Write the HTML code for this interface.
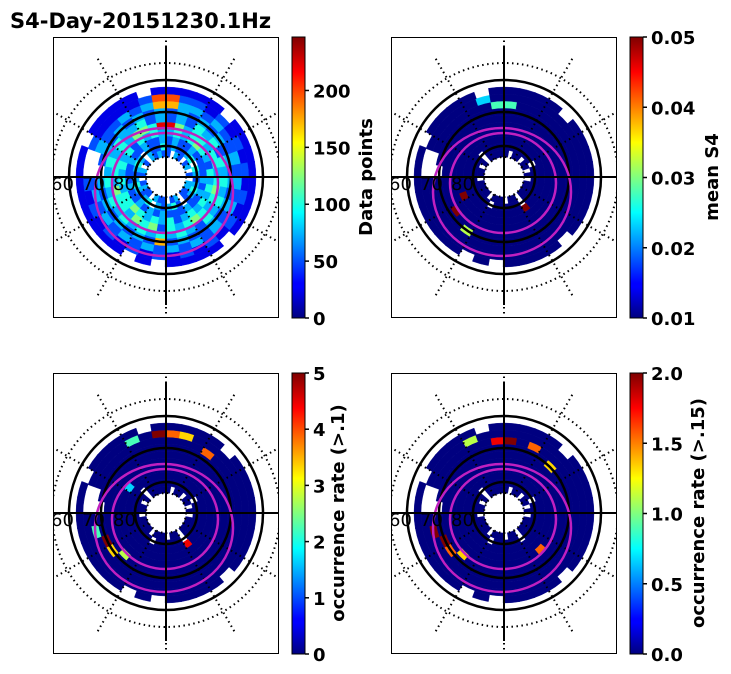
<!DOCTYPE html>
<html><head><meta charset="utf-8"><style>
body{margin:0;background:#fff;}
svg{display:block;font-family:"DejaVu Sans","Liberation Sans",sans-serif;}
</style></head><body>
<svg id="fig" width="731" height="674" viewBox="0 0 731 674">
<defs>
<linearGradient id="jet" x1="0" y1="1" x2="0" y2="0">
<stop offset="0" stop-color="#00007f"/><stop offset="0.11" stop-color="#0000ff"/><stop offset="0.125" stop-color="#0000ff"/>
<stop offset="0.375" stop-color="#00ffff"/><stop offset="0.5" stop-color="#80ff80"/><stop offset="0.625" stop-color="#ffff00"/>
<stop offset="0.875" stop-color="#ff0000"/><stop offset="1" stop-color="#7f0000"/>
</linearGradient>
</defs>
<text x="10" y="28" font-size="21" font-weight="bold">S4-Day-20151230.1Hz</text>
</svg>
<script>
const countRows = [
"2.32.23.2.3322.32.223.2232.23.2.3232",
"232234.4323432.24323.4323432343.3224",
"232232222323223222323232232223223223",
"343454324343434324343454434343424343",
"953443443454345434254534453443435549",
"232434243434342343434343434343433423",
"232323232323232232723232323.23232323",
"733232232323232323232323232..3223237",
"822121212121212121212121212..2111128",
"1111.11111111.1111.1.11111111.1111.11"];
const meanS4Spots = [[7,0,4],[7,35,4],[8,34,3],[3,24,9],[5,23,9],[2,14,9],[6,21,5]];
const occ1Spots = [[8,0,7],[8,35,9],[8,1,6],[8,33,4],[7,3,7],[6,24,9],[6,23,6],[5,22,5],[7,25,4],[3,30,3],[2,14,8]];
const occ15Spots = [[7,0,9],[7,35,8],[7,2,7],[6,4,6],[8,33,5],[6,24,9],[7,25,9],[6,23,7],[5,22,6],[4,13,7]];
const cb1Ticks = [0,50,100,150,200];
const cb2Ticks = ["0.01","0.02","0.03","0.04","0.05"];
const cb3Ticks = ["0","1","2","3","4","5"];
const cb4Ticks = ["0.0","0.5","1.0","1.5","2.0"];
const latLabels = ["60","70","80"];

const NS="http://www.w3.org/2000/svg";
const svg=document.getElementById('fig');
function mk(tag,attrs,parent){const e=document.createElementNS(NS,tag);for(const k in attrs)e.setAttribute(k,attrs[k]);(parent||svg).appendChild(e);return e;}
function jet(t){t=Math.max(0,Math.min(1,t));const c=v=>Math.round(255*Math.max(0,Math.min(1,v)));
return `rgb(${c(1.5-Math.abs(4*t-3))},${c(1.5-Math.abs(4*t-2))},${c(1.5-Math.abs(4*t-1))})`;}
const R0=20,DR=7,NA=36;
function rScale(i){return R0+i*DR;}
function aScale(j){return j*2*Math.PI/NA;}
function sector(cx,cy,r1,r2,a1,a2){
 const p=(r,a)=>[cx+r*Math.sin(a),cy-r*Math.cos(a)];
 const [x1,y1]=p(r2,a1),[x2,y2]=p(r2,a2),[x3,y3]=p(r1,a2),[x4,y4]=p(r1,a1);
 return `M${x1},${y1}A${r2},${r2} 0 0 1 ${x2},${y2}L${x3},${y3}A${r1},${r1} 0 0 0 ${x4},${y4}Z`;}
const panels=[
 {x:53,y:37,name:'data-points',spots:null},
 {x:391,y:37,name:'mean-s4',spots:meanS4Spots},
 {x:53,y:373,name:'occurrence-rate-01',spots:occ1Spots},
 {x:391,y:373,name:'occurrence-rate-015',spots:occ15Spots}];
const W=226,H=281;
panels.forEach((P,pi)=>{
 const cx=P.x+113,cy=P.y+140;
 const g=mk('g',{});
 
 
 const cid='clip'+pi;
 const cp=mk('clipPath',{id:cid},g);mk('rect',{x:P.x,y:P.y,width:W,height:H},cp);
 const inner=mk('g',{'clip-path':`url(#${cid})`},g);
 const grid=countRows.map(r=>r.slice(0,NA).split('').map(ch=>ch==='.'?null:(P.spots?0:+ch)));
 if(P.spots)P.spots.forEach(s=>{if(grid[s[0]][s[1]]!==null)grid[s[0]][s[1]]=s[2];});
 grid.forEach((row,i)=>row.forEach((v,j)=>{
  if(v===null)return;
  const t=P.spots?v/9:v/10;
  const c=mk('path',{d:sector(cx,cy,rScale(i),rScale(i+1),aScale(j),aScale(j+1)+0.01),fill:jet(t),stroke:jet(t),'stroke-width':0.4},inner);
  
  
 }));
 for(let k=0;k<12;k++){const a=k*Math.PI/6;
  mk('line',{x1:cx+20*Math.sin(a),y1:cy-20*Math.cos(a),x2:cx+140*Math.sin(a),y2:cy-140*Math.cos(a),stroke:'#000','stroke-width':2,'stroke-dasharray':'1.5 3.5'},inner);}
 [20,114].forEach(r=>mk('circle',{cx,cy,r,fill:'none',stroke:'#000','stroke-width':2,'stroke-dasharray':'1.5 3.5'},inner));
 [31,65,97].forEach(r=>mk('circle',{cx,cy,r,fill:'none',stroke:'#000','stroke-width':2.5},inner));
 mk('ellipse',{cx:cx-2,cy:cy+15,rx:69,ry:64,fill:'none',stroke:'#c020c0','stroke-width':2.5},inner);
 mk('ellipse',{cx:cx-1,cy:cy+6,rx:53,ry:50,fill:'none',stroke:'#c020c0','stroke-width':2.5},inner);
 mk('line',{x1:cx,y1:cy-130,x2:cx,y2:cy+128,stroke:'#000','stroke-width':2},inner);
 mk('line',{x1:P.x,y1:cy,x2:P.x+W,y2:cy,stroke:'#000','stroke-width':2},inner);
 latLabels.forEach((t,k)=>{const tx=mk('text',{x:P.x-2+k*31,y:cy+13,'font-size':18},inner);tx.textContent=t;
  });
 const fr=mk('rect',{x:P.x+0.5,y:P.y+0.5,width:W-1,height:H-1,fill:'none',stroke:'#000','stroke-width':1},g);
 
});
const cbs=[
 {x:292,y:37,ticks:cb1Ticks.map(v=>[v/247,String(v)]),label:'Data points',lx:372,name:'data-points'},
 {x:630,y:37,ticks:cb2Ticks.map((v,k)=>[k/4,v]),label:'mean S4',lx:718,name:'mean-s4'},
 {x:292,y:373,ticks:cb3Ticks.map((v,k)=>[k/5,v]),label:'occurrence rate (>.1)',lx:344,name:'occurrence-rate-01'},
 {x:630,y:373,ticks:cb4Ticks.map((v,k)=>[k/4,v]),label:'occurrence rate (>.15)',lx:704,name:'occurrence-rate-015'}];
cbs.forEach(C=>{
 const g=mk('g',{});
 
 
 mk('rect',{x:C.x,y:C.y,width:13,height:281,fill:'url(#jet)',stroke:'#000','stroke-width':1},g);
 C.ticks.forEach(([f,t])=>{const y=C.y+281-f*281;
  mk('line',{x1:C.x+13,y1:y,x2:C.x+17,y2:y,stroke:'#000','stroke-width':1.5},g);
  const tx=mk('text',{x:C.x+21,y:y+7,'font-size':18,'font-weight':'bold'},g);tx.textContent=t;
  });
 const cyc=C.y+140;
 const lb=mk('text',{x:C.lx,y:cyc,'font-size':18,'font-weight':'bold','text-anchor':'middle',transform:`rotate(-90 ${C.lx} ${cyc})`},g);
 lb.textContent=C.label;
 
});
</script>
</body></html>
